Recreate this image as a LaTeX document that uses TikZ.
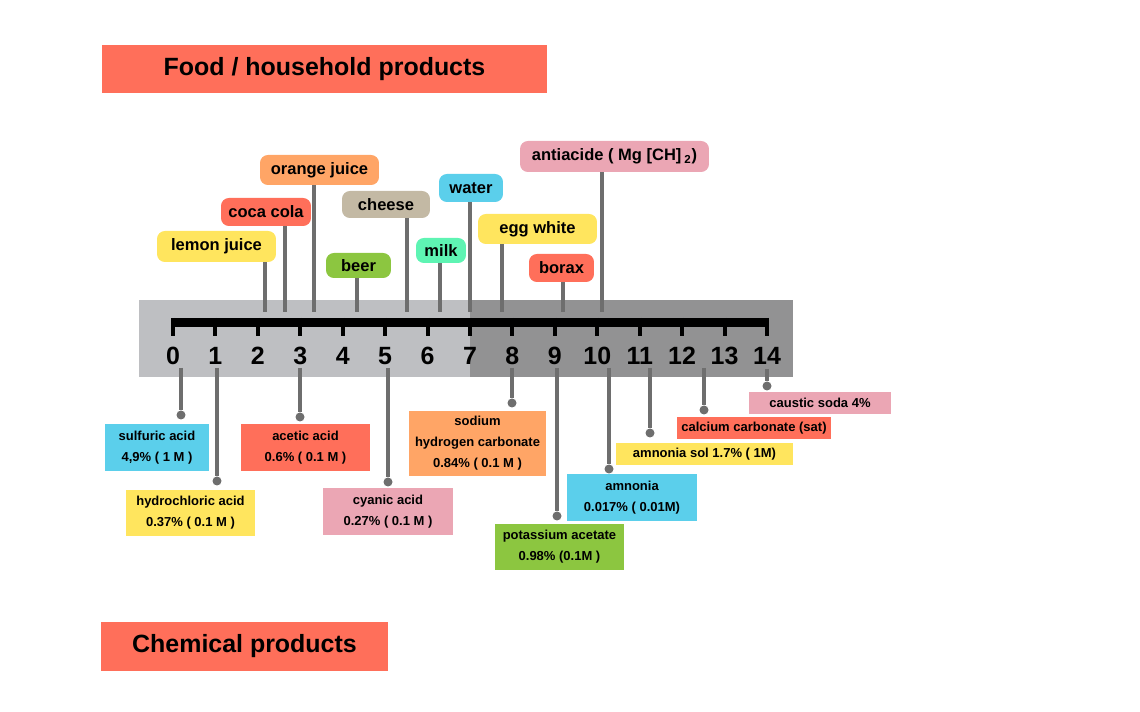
\documentclass[tikz,border=0pt]{standalone}
\usepackage{fontspec}
\setmainfont{Liberation Sans}
\usepackage{tikz}
\definecolor{coral}{HTML}{FF6F5A}
\definecolor{sun}{HTML}{FFE55E}
\definecolor{peach}{HTML}{FFA566}
\definecolor{sand}{HTML}{C3B9A4}
\definecolor{leaf}{HTML}{8CC640}
\definecolor{mint}{HTML}{5EF4B3}
\definecolor{sky}{HTML}{5BCFEB}
\definecolor{rose}{HTML}{EBA6B4}
\definecolor{lightbar}{HTML}{BEBFC2}
\definecolor{darkbar}{HTML}{929293}
\definecolor{leadgray}{HTML}{6E6E6E}

\begin{document}
\begin{tikzpicture}[x=0.02cm,y=-0.02cm]
\tikzstyle{every node}+=[inner sep=0pt]
\tikzstyle{title}=[font=\bfseries\fontsize{14.2}{16}\selectfont, fill=coral]
\tikzstyle{tag}=[font=\bfseries\fontsize{9.4}{11}\selectfont, rounded corners=4.5pt]
\tikzstyle{sample}=[font=\bfseries\fontsize{7.4}{12}\selectfont, align=center]
\tikzstyle{num}=[font=\bfseries\fontsize{14.2}{16}\selectfont]
\tikzstyle{lead}=[draw=leadgray, line width=1.9pt]
\tikzstyle{dot}=[circle, fill=leadgray, minimum size=0.18cm]
\tikzstyle{tick}=[line width=2.3pt]

\path[use as bounding box] (0,0) rectangle (1140,712);

\node[title, minimum width=8.90cm, minimum height=0.96cm] (food) at (324.5,69) {Food / household products};
\node[title, minimum width=5.74cm, minimum height=0.98cm] (chem) at (244.5,646.5) {Chemical products};

\fill[lightbar] (139,300) rectangle (470,377);
\fill[darkbar] (470,300) rectangle (793,377);

\draw[line width=5.1pt] (171,322.5) -- (769,322.5);
\draw[tick] (173,318) -- (173,336);
\draw[tick] (215.4,318) -- (215.4,336);
\draw[tick] (257.9,318) -- (257.9,336);
\draw[tick] (300.3,318) -- (300.3,336);
\draw[tick] (342.7,318) -- (342.7,336);
\draw[tick] (385.1,318) -- (385.1,336);
\draw[tick] (427.6,318) -- (427.6,336);
\draw[tick] (470,318) -- (470,336);
\draw[tick] (512.4,318) -- (512.4,336);
\draw[tick] (554.9,318) -- (554.9,336);
\draw[tick] (597.3,318) -- (597.3,336);
\draw[tick] (639.7,318) -- (639.7,336);
\draw[tick] (682.1,318) -- (682.1,336);
\draw[tick] (724.6,318) -- (724.6,336);
\draw[tick] (767,318) -- (767,336);

\node[num] (n0) at (173,356) {0};
\node[num] (n1) at (215.4,356) {1};
\node[num] (n2) at (257.9,356) {2};
\node[num] (n3) at (300.3,356) {3};
\node[num] (n4) at (342.7,356) {4};
\node[num] (n5) at (385.1,356) {5};
\node[num] (n6) at (427.6,356) {6};
\node[num] (n7) at (470,356) {7};
\node[num] (n8) at (512.4,356) {8};
\node[num] (n9) at (554.9,356) {9};
\node[num] (n10) at (597.3,356) {10};
\node[num] (n11) at (639.7,356) {11};
\node[num] (n12) at (682.1,356) {12};
\node[num] (n13) at (724.6,356) {13};
\node[num] (n14) at (767,356) {14};

\node[tag, fill=sun, minimum width=2.38cm, minimum height=0.62cm] (lemon) at (216.5,246.5) {lemon juice};
\node[tag, fill=coral, minimum width=1.80cm, minimum height=0.56cm] (coca) at (266,212) {coca cola};
\node[tag, fill=peach, minimum width=2.38cm, minimum height=0.60cm] (orange) at (319.5,170) {orange juice};
\node[tag, fill=leaf, minimum width=1.30cm, minimum height=0.50cm] (beer) at (358.5,265.5) {beer};
\node[tag, fill=sand, minimum width=1.76cm, minimum height=0.54cm] (cheese) at (386,204.5) {cheese};
\node[tag, fill=mint, minimum width=1.00cm, minimum height=0.50cm] (milk) at (441,250.5) {milk};
\node[tag, fill=sky, minimum width=1.28cm, minimum height=0.56cm] (water) at (471,188) {water};
\node[tag, fill=sun, minimum width=2.38cm, minimum height=0.60cm] (egg) at (537.5,229) {egg white};
\node[tag, fill=coral, minimum width=1.30cm, minimum height=0.56cm] (borax) at (561.5,268) {borax};
\node[tag, fill=rose, minimum width=3.78cm, minimum height=0.62cm] (antiacide) at (614.5,156.5) {antiacide ( Mg [CH]\,\textsubscript{2})};

\coordinate (a-lemon) at (265,312);
\coordinate (a-coca) at (285,312);
\coordinate (a-orange) at (314,312);
\coordinate (a-beer) at (357,312);
\coordinate (a-cheese) at (407,312);
\coordinate (a-milk) at (440,312);
\coordinate (a-water) at (470,312);
\coordinate (a-egg) at (502,312);
\coordinate (a-borax) at (563,312);
\coordinate (a-antiacide) at (602,312);
\draw[lead] (a-lemon |- lemon.south) -- (a-lemon);
\draw[lead] (a-coca |- coca.south) -- (a-coca);
\draw[lead] (a-orange |- orange.south) -- (a-orange);
\draw[lead] (a-beer |- beer.south) -- (a-beer);
\draw[lead] (a-cheese |- cheese.south) -- (a-cheese);
\draw[lead] (a-milk |- milk.south) -- (a-milk);
\draw[lead] (a-water |- water.south) -- (a-water);
\draw[lead] (a-egg |- egg.south) -- (a-egg);
\draw[lead] (a-borax |- borax.south) -- (a-borax);
\draw[lead] (a-antiacide |- antiacide.south) -- (a-antiacide);

\coordinate (b-sulf) at (181,368);
\coordinate (b-hcl) at (217,368);
\coordinate (b-acetic) at (300,368);
\coordinate (b-cyanic) at (388,368);
\coordinate (b-sodium) at (512,368);
\coordinate (b-potassium) at (557,368);
\coordinate (b-amnonia) at (609,368);
\coordinate (b-amnsol) at (650,368);
\coordinate (b-calcium) at (704,368);
\coordinate (b-caustic) at (767,369);
\node[dot] (d-sulf) at (181,415) {};
\node[dot] (d-hcl) at (217,481) {};
\node[dot] (d-acetic) at (300,417) {};
\node[dot] (d-cyanic) at (388,482) {};
\node[dot] (d-sodium) at (512,403) {};
\node[dot] (d-potassium) at (557,516) {};
\node[dot] (d-amnonia) at (609,469) {};
\node[dot] (d-amnsol) at (650,433) {};
\node[dot] (d-calcium) at (704,410) {};
\node[dot] (d-caustic) at (767,386) {};
\draw[lead] (b-sulf) -- (d-sulf);
\draw[lead] (b-hcl) -- (d-hcl);
\draw[lead] (b-acetic) -- (d-acetic);
\draw[lead] (b-cyanic) -- (d-cyanic);
\draw[lead] (b-sodium) -- (d-sodium);
\draw[lead] (b-potassium) -- (d-potassium);
\draw[lead] (b-amnonia) -- (d-amnonia);
\draw[lead] (b-amnsol) -- (d-amnsol);
\draw[lead] (b-calcium) -- (d-calcium);
\draw[lead] (b-caustic) -- (d-caustic);

\node[sample, fill=sky, minimum width=2.08cm, minimum height=0.94cm] (sulf) at (157,447.5) {sulfuric acid\\4,9\% ( 1 M )};
\node[sample, fill=sun, minimum width=2.58cm, minimum height=0.92cm] (hcl) at (190.5,513) {hydrochloric acid\\0.37\% ( 0.1 M )};
\node[sample, fill=coral, minimum width=2.58cm, minimum height=0.94cm] (acetic) at (305.5,447.5) {acetic acid\\0.6\% ( 0.1 M )};
\node[sample, fill=rose, minimum width=2.60cm, minimum height=0.94cm] (cyanic) at (388,511.5) {cyanic acid\\0.27\% ( 0.1 M )};
\node[sample, fill=peach, minimum width=2.74cm, minimum height=1.30cm] (sodium) at (477.5,443.5) {sodium\\hydrogen carbonate\\0.84\% ( 0.1 M )};
\node[sample, fill=leaf, minimum width=2.58cm, minimum height=0.92cm] (potassium) at (559.5,547) {potassium acetate\\0.98\% (0.1M )};
\node[sample, fill=sky, minimum width=2.60cm, minimum height=0.94cm] (amnonia) at (632,497.5) {amnonia\\0.017\% ( 0.01M)};
\node[sample, fill=sun, minimum width=3.54cm, minimum height=0.44cm] (amnsol) at (704.5,454) {amnonia sol 1.7\% ( 1M)};
\node[sample, fill=coral, minimum width=3.08cm, minimum height=0.44cm] (calcium) at (754,428) {calcium carbonate (sat)};
\node[sample, fill=rose, minimum width=2.84cm, minimum height=0.44cm] (caustic) at (820,403) {caustic soda 4\%};
\end{tikzpicture}
\end{document}
